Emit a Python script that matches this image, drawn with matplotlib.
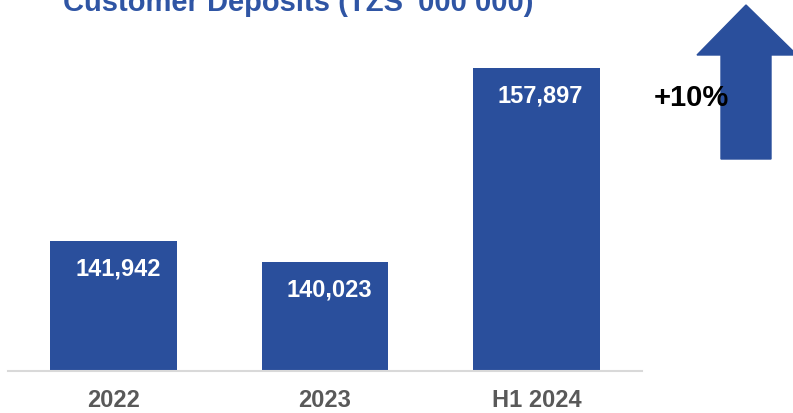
import matplotlib.pyplot as plt
from matplotlib.patches import Polygon

# Данные по депозитам клиентов
periods = ['2022', '2023', 'H1 2024']
deposits = [141942, 140023, 157897]
growth_label = '+10%'

BAR_COLOR = '#2A4F9C'
plt.rcParams['font.family'] = ['Liberation Sans', 'DejaVu Sans']

fig = plt.figure(figsize=(7.93, 4.13), dpi=100)
W, H = 793, 413
# оси: слева 8px, справа 642px, базовая линия на 371px
ax = fig.add_axes([8 / W, (H - 371) / H, 634 / W, 371 / H])

x = range(len(periods))
ax.bar(x, deposits, width=0.6, color=BAR_COLOR)
ax.set_xlim(-0.5, 2.5)
ax.set_ylim(129950, 164200)

# подписи значений внутри столбцов
for i, v in enumerate(deposits):
    ax.annotate(f'{v:,}', (i, v), xytext=(3, -20), textcoords='offset points',
                ha='center', va='center', color='white', fontsize=17, fontweight='bold')

for s in ['top', 'right', 'left']:
    ax.spines[s].set_visible(False)
ax.spines['bottom'].set_color('#D9D9D9')
ax.spines['bottom'].set_linewidth(1.5)
ax.set_yticks([])
ax.set_xticks(list(x))
ax.set_xticklabels(periods, fontsize=17, fontweight='bold', color='#595959')
ax.tick_params(axis='x', length=0, pad=13)

# заголовок (частично обрезан сверху)
fig.text(298 / W, 1 - 3 / H, "Customer Deposits (TZS '000 000)", ha='center', va='center',
         fontsize=21, fontweight='bold', color='#2F55A4')

# стрелка роста
arrow_px = [(721, 159), (771, 159), (771, 55), (797, 55), (746, 5), (697, 55), (721, 55)]
arrow = Polygon([(px / W, 1 - py / H) for px, py in arrow_px], closed=True,
                transform=fig.transFigure, color=BAR_COLOR)
fig.patches.append(arrow)
fig.text(691 / W, 1 - 98 / H, growth_label, ha='center', va='center',
         fontsize=21, fontweight='bold', color='black')

fig.savefig('out.png', dpi=100)
